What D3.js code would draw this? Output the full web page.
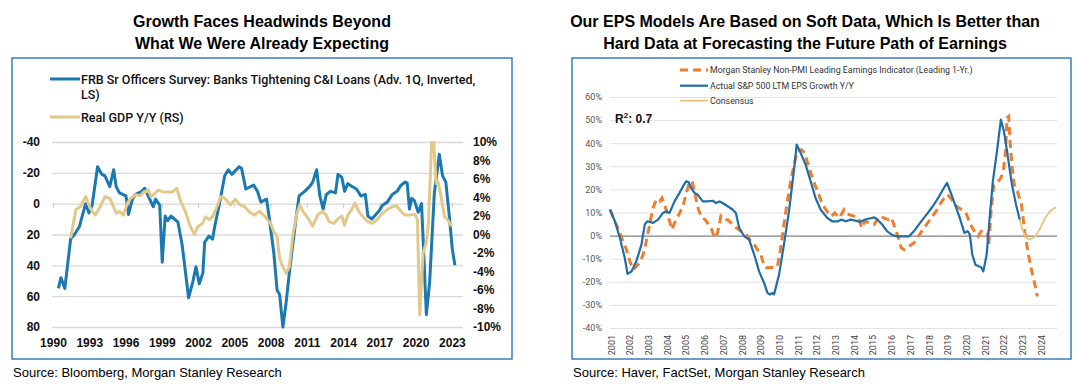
<!DOCTYPE html>
<html>
<head>
<meta charset="utf-8">
<script src="https://cdn.jsdelivr.net/npm/d3@7"></script>
<style>
  html, body { margin: 0; padding: 0; background: #fff; }
  svg { display: block; }
</style>
</head>
<body>
<script>
// ---------------- DATA ----------------
// Left chart: FRB Senior Loan Officers survey (left axis, inverted) [decimal year, value]
const frbSeries = [
  [1990.45,55],[1990.66,48],[1990.98,55],[1991.46,23],[1991.78,20],[1992.18,15],[1992.7,0],[1992.98,6],
  [1993.24,1],[1993.69,-24],[1994.04,-19],[1994.3,-18],[1994.7,-11],[1995.02,-22],[1995.23,-11],[1995.5,-7],
  [1996.04,-5],[1996.25,7],[1996.57,-3],[1996.83,-6],[1997.36,-8],[1997.58,-10],[1997.76,-7],[1998.3,2],
  [1998.48,-3],[1998.83,1],[1999.04,38],[1999.28,8],[1999.49,11],[1999.76,8],[2000.34,12],[2000.69,27],
  [2001.22,61],[2001.56,51],[2001.83,41],[2002.1,52],[2002.4,45],[2002.55,25],[2002.9,21],[2003.2,23],
  [2003.4,14],[2003.75,1],[2004.2,-18],[2004.5,-22],[2004.8,-19],[2005.4,-24],[2005.6,-23],[2005.95,-9.5],
  [2006.6,-12],[2006.92,-8],[2007.2,-1],[2007.67,-3],[2007.87,8],[2008.27,32],[2008.54,56],[2008.75,59],
  [2009.02,80],[2009.29,64],[2009.55,45],[2009.83,27],[2010.15,7],[2010.36,-5],[2010.82,-8],[2011.22,-11],
  [2011.49,-14],[2011.81,-22],[2012.08,-5],[2012.35,3.5],[2012.61,-6],[2012.97,-8],[2013.37,-7],[2013.58,-19],
  [2013.9,-17],[2014.12,-8],[2014.39,-13],[2014.77,-11],[2015.11,-9.5],[2015.47,-5],[2015.84,-6],[2016.05,8],
  [2016.38,10],[2017.0,4.5],[2017.26,1],[2017.66,-1],[2018.07,-6],[2018.47,-8],[2018.79,-12],[2019.14,-14],
  [2019.3,-13.5],[2019.49,3.5],[2019.68,-3.5],[2019.9,-2],[2020.21,5.6],[2020.49,0],[2020.62,23],[2020.89,72],
  [2021.16,51],[2021.55,-7],[2021.96,-32],[2022.23,-18],[2022.5,-14],[2022.76,6],[2023.03,29],[2023.25,40]
];
// Left chart: Real GDP Y/Y % (right axis)
const gdpSeries = [
  [1991.46,-0.4],[1991.9,2.7],[1992.25,3.0],[1992.7,4.1],[1993.1,2.8],[1993.5,2.1],[1993.9,3.0],[1994.3,4.1],
  [1994.7,3.9],[1995.02,3.0],[1995.23,2.3],[1995.5,2.5],[1995.82,2.1],[1996.16,3.4],[1996.43,3.9],[1996.83,4.3],
  [1997.23,4.2],[1997.5,4.6],[1997.9,4.8],[1998.1,4.1],[1998.3,4.3],[1998.7,4.8],[1999.1,4.6],[1999.5,4.6],
  [1999.9,4.6],[2000.24,5.0],[2000.56,3.6],[2000.95,2.5],[2001.35,0.9],[2001.7,0],[2002.0,0.9],[2002.37,1.2],
  [2002.63,1.9],[2002.95,1.6],[2003.2,1.9],[2003.56,3.0],[2003.87,4.1],[2004.22,3.9],[2004.68,3.2],[2005.08,3.8],
  [2005.48,3.2],[2005.87,3.0],[2006.27,2.4],[2006.65,2.1],[2007.07,2.5],[2007.5,2.0],[2008.0,1.2],[2008.27,0.3],
  [2008.54,-0.2],[2008.75,-2.6],[2009.02,-3.5],[2009.29,-4.2],[2009.55,-3.5],[2009.83,-0.2],[2010.15,2.1],
  [2010.41,3.2],[2010.68,2.5],[2011.08,1.8],[2011.49,0.9],[2011.89,2.1],[2012.3,2.5],[2012.61,2.1],[2012.83,1.4],
  [2013.23,1.2],[2013.58,1.7],[2013.9,2.0],[2014.12,1.0],[2014.39,2.1],[2014.71,2.7],[2014.98,3.4],[2015.3,2.5],
  [2015.65,1.9],[2016.05,1.4],[2016.45,1.2],[2016.8,1.6],[2017.18,2.2],[2017.66,2.7],[2018.07,3.0],[2018.42,3.1],
  [2018.79,2.5],[2019.14,2.1],[2019.54,2.1],[2019.94,2.2],[2020.15,1.6],[2020.34,-8.7],[2020.62,-2.0],
  [2020.89,-0.8],[2021.05,1.0],[2021.4,12.2],[2021.7,5.5],[2021.85,5.7],[2022.05,4.5],[2022.4,1.9],
  [2022.65,1.6],[2022.97,0.9]
];
const frbTicks = [-40, -20, 0, 20, 40, 60, 80];
const gdpTicks = [10, 8, 6, 4, 2, 0, -2, -4, -6, -8, -10];
const leftYears = [1990, 1993, 1996, 1999, 2002, 2005, 2008, 2011, 2014, 2017, 2020, 2023];

// Right chart: EPS growth % [decimal year, value]
const msIndicator = [
  [2000.95,11.3],[2001.21,6.2],[2001.48,1.2],[2001.65,-2.5],[2001.83,-6.1],[2002.01,-11.1],[2002.19,-14.7],
  [2002.36,-13.3],[2002.54,-11.8],[2002.72,-8.2],[2002.89,-2.5],[2003.07,4.8],[2003.25,12.0],[2003.43,15.6],
  [2003.61,14.8],[2003.73,16.3],[2003.87,13.4],[2004.08,7.7],[2004.26,2.6],[2004.44,6.2],[2004.67,9.8],
  [2004.85,12.7],[2005.03,18.5],[2005.2,22.8],[2005.34,23.5],[2005.5,17.7],[2005.68,11.3],[2005.86,7.7],
  [2006.04,6.9],[2006.21,4.8],[2006.39,2.6],[2006.53,-1.0],[2006.7,1.2],[2006.88,8.4],[2007.06,6.9],
  [2007.24,6.9],[2007.42,5.5],[2007.6,4.0],[2007.77,3.0],[2007.95,1.9],[2008.13,1.2],[2008.31,-0.3],
  [2008.48,-2.5],[2008.66,-3.9],[2008.84,-6.1],[2009.02,-8.2],[2009.19,-13.3],[2009.37,-14.0],[2009.55,-13.7],
  [2009.72,-14.0],[2009.9,-13.3],[2010.08,-5.3],[2010.25,4.8],[2010.43,14.8],[2010.61,23.5],[2010.79,30.7],
  [2010.97,36.5],[2011.18,37.2],[2011.36,35.8],[2011.54,30.7],[2011.72,26.4],[2011.9,22.1],[2012.08,18.5],
  [2012.25,14.8],[2012.43,12.0],[2012.61,9.8],[2012.79,8.4],[2012.97,9.8],[2013.22,7.7],[2013.47,11.3],
  [2013.73,9.1],[2013.98,8.4],[2014.24,7.7],[2014.41,3.3],[2014.57,6.2],[2014.83,5.5],[2015.08,4.8],
  [2015.34,8.4],[2015.59,7.7],[2015.84,6.9],[2016.01,7.7],[2016.18,3.3],[2016.35,-0.3],[2016.52,-5.3],
  [2016.69,-6.1],[2016.94,-4.6],[2017.2,-3.2],[2017.37,-1.0],[2017.62,1.9],[2017.87,4.8],[2018.13,7.7],
  [2018.38,10.5],[2018.63,14.1],[2018.89,17.0],[2019.0,17.7],[2019.22,15.6],[2019.48,12.7],[2019.73,11.3],
  [2019.98,9.8],[2020.16,6.2],[2020.32,3.3],[2020.49,1.2],[2020.63,-0.3],[2020.8,1.9],[2020.96,2.2],
  [2021.13,1.2],[2021.2,-3.9],[2021.34,12.0],[2021.47,22.1],[2021.64,22.8],[2021.85,25.0],[2021.98,27.8],
  [2022.1,36.5],[2022.18,51.0],[2022.27,51.6],[2022.35,39.4],[2022.44,30.7],[2022.56,22.1],[2022.73,19.2],
  [2022.95,13.4],[2023.12,1.9],[2023.29,-6.8],[2023.46,-14.0],[2023.63,-19.8],[2023.8,-26.3]
];
const actualEps = [
  [2000.95,11.3],[2001.21,6.2],[2001.48,-1],[2001.74,-9.7],[2001.89,-16.6],[2002.1,-15.5],[2002.36,-11.1],
  [2002.63,-3.9],[2002.81,4.8],[2002.95,6.2],[2003.25,5.5],[2003.52,6.9],[2003.78,9.8],[2003.96,10.5],
  [2004.13,9.8],[2004.4,14.8],[2004.67,18.5],[2004.85,21.3],[2005.02,23.5],[2005.15,23.2],[2005.29,20.6],
  [2005.47,18.5],[2005.64,17.7],[2005.91,14.8],[2006.17,14.8],[2006.44,15.1],[2006.62,14.1],[2006.8,14.8],
  [2006.97,14.1],[2007.24,12.7],[2007.5,11.3],[2007.68,9.8],[2007.86,3.3],[2008.13,-0.3],[2008.39,-1.7],
  [2008.66,-8.2],[2008.92,-15.5],[2009.19,-20.5],[2009.37,-24.8],[2009.51,-25.5],[2009.64,-24.8],
  [2009.72,-25.5],[2009.99,-16.9],[2010.25,-3.9],[2010.52,10.5],[2010.79,28.6],[2010.93,39.4],[2011.14,35.8],
  [2011.41,30.7],[2011.68,23.5],[2011.94,16.3],[2012.21,11.3],[2012.56,7.7],[2012.83,6.2],[2013.14,6.2],
  [2013.31,6.9],[2013.56,6.2],[2013.81,6.9],[2014.07,6.5],[2014.32,5.9],[2014.57,6.9],[2014.83,7.4],
  [2015.08,7.9],[2015.25,6.9],[2015.5,4.8],[2015.76,1.9],[2016.01,0.4],[2016.27,-0.3],[2016.6,-0.3],
  [2016.94,-0.3],[2017.2,1.9],[2017.53,5.5],[2017.87,9.1],[2018.21,12.7],[2018.55,17.0],[2018.8,20.6],
  [2018.97,22.8],[2019.14,19.2],[2019.4,13.4],[2019.65,7.7],[2019.9,1.2],[2020.07,1.9],[2020.19,0.4],
  [2020.32,-8.2],[2020.49,-12.6],[2020.66,-13.3],[2020.8,-13.7],[2020.91,-15.5],[2021.09,-8.2],[2021.25,7.7],
  [2021.42,23.5],[2021.64,36.5],[2021.85,50.2],[2022.01,45.2],[2022.18,36.5],[2022.44,22.1],[2022.66,13.4],
  [2022.86,6.9]
];
const consensusEps = [
  [2022.86,6.9],[2023.03,1.9],[2023.2,-1.0],[2023.4,-1.7],[2023.7,-0.3],[2023.96,3.3],[2024.22,7.7],
  [2024.47,10.5],[2024.72,12.0],[2024.8,12.0]
];
const epsTicks = [60, 50, 40, 30, 20, 10, 0, -10, -20, -30, -40];
const rightYears = d3.range(2001, 2025);

// ---------------- DRAW ----------------
const W = 1080, H = 390;
const svg = d3.select('body').append('svg').attr('width', W).attr('height', H);
svg.append('rect').attr('width', W).attr('height', H).attr('fill', '#fff');

const ARIAL = "'Liberation Sans', Arial, sans-serif";
const ROBOTO = "Roboto, 'Liberation Sans', sans-serif";
const frameColor = '#3a7dbd';

// Titles
function title(cx, lines) {
  lines.forEach((t, i) => {
    svg.append('text').attr('x', cx).attr('y', 27 + i * 22.3)
      .attr('text-anchor', 'middle').attr('font-family', ARIAL)
      .attr('font-weight', 'bold').attr('font-size', 16).attr('fill', '#000').text(t);
  });
}
title(262, ['Growth Faces Headwinds Beyond', 'What We Were Already Expecting']);
title(805, ['Our EPS Models Are Based on Soft Data, Which Is Better than',
            'Hard Data at Forecasting the Future Path of Earnings']);

// Frames
svg.append('rect').attr('x', 12).attr('y', 58).attr('width', 500).attr('height', 301)
  .attr('fill', 'none').attr('stroke', frameColor).attr('stroke-width', 1.5);
svg.append('rect').attr('x', 572).attr('y', 58).attr('width', 499).attr('height', 301)
  .attr('fill', 'none').attr('stroke', frameColor).attr('stroke-width', 1.5);

// Sources
svg.append('text').attr('x', 13).attr('y', 377).attr('font-family', ARIAL).attr('font-size', 13)
  .attr('fill', '#000').text('Source: Bloomberg, Morgan Stanley Research');
svg.append('text').attr('x', 573).attr('y', 377).attr('font-family', ARIAL).attr('font-size', 13)
  .attr('fill', '#000').text('Source: Haver, FactSet, Morgan Stanley Research');

// ===== LEFT CHART =====
const xL = d3.scaleLinear().domain([1989.92, 2023.92]).range([52, 463]);
const yL = d3.scaleLinear().domain([-40, 80]).range([142, 327]);
const yR = d3.scaleLinear().domain([10, -10]).range([142, 327]);

const gGrid = svg.append('g').attr('transform', 'translate(52,0)')
  .call(d3.axisLeft(yL).tickValues(frbTicks).tickSize(-411).tickPadding(12).tickFormat(d => d));
gGrid.select('.domain').remove();
gGrid.selectAll('line').attr('stroke', '#d9d9d9').attr('stroke-width', 1.4);
gGrid.selectAll('text').attr('font-family', ARIAL).attr('font-weight', 'bold')
  .attr('font-size', 12).attr('fill', '#111');

const gRight = svg.append('g').attr('transform', 'translate(463,0)')
  .call(d3.axisRight(yR).tickValues(gdpTicks).tickSize(0).tickPadding(10).tickFormat(d => d + '%'));
gRight.select('.domain').remove();
gRight.selectAll('text').attr('font-family', ARIAL).attr('font-weight', 'bold')
  .attr('font-size', 12).attr('fill', '#111');

// small ticks on zero line
const gZero = svg.append('g').attr('transform', `translate(0,${yL(0)})`)
  .call(d3.axisBottom(xL).tickValues(leftYears).tickSize(4).tickFormat(''));
gZero.select('.domain').remove();
gZero.selectAll('line').attr('stroke', '#c8c8c8').attr('stroke-width', 1);

const gXL = svg.append('g').attr('transform', 'translate(0,347)')
  .call(d3.axisBottom(xL).tickValues(leftYears).tickSize(0).tickFormat(d => d));
gXL.select('.domain').remove();
gXL.selectAll('text').attr('y', 0).attr('dy', 0).attr('font-family', ARIAL)
  .attr('font-weight', 'bold').attr('font-size', 12).attr('fill', '#111');

svg.append('clipPath').attr('id', 'clipL').append('rect')
  .attr('x', 40).attr('y', 141).attr('width', 440).attr('height', 200);

const lineFrb = d3.line().x(d => xL(d[0])).y(d => yL(d[1]));
const lineGdp = d3.line().x(d => xL(d[0])).y(d => yR(d[1]));

const blueL = '#1b79b2', goldL = '#e2c98b';
svg.append('path').datum(frbSeries).attr('d', lineFrb).attr('fill', 'none')
  .attr('stroke', blueL).attr('stroke-width', 3).attr('stroke-linejoin', 'round')
  .attr('clip-path', 'url(#clipL)');
svg.append('path').datum(gdpSeries).attr('d', lineGdp).attr('fill', 'none')
  .attr('stroke', goldL).attr('stroke-width', 3).attr('stroke-linejoin', 'round')
  .attr('clip-path', 'url(#clipL)');

// Left legend
svg.append('line').attr('x1', 50).attr('x2', 80).attr('y1', 79).attr('y2', 79)
  .attr('stroke', blueL).attr('stroke-width', 3);
svg.append('line').attr('x1', 50).attr('x2', 80).attr('y1', 117).attr('y2', 117)
  .attr('stroke', goldL).attr('stroke-width', 3);
const legL = [
  ['FRB Sr Officers Survey: Banks Tightening C&I Loans (Adv. 1Q, Inverted,', 83.5],
  ['LS)', 98.5],
  ['Real GDP Y/Y (RS)', 121.5]
];
legL.forEach(([t, y]) => {
  svg.append('text').attr('x', 81).attr('y', y).attr('font-family', ROBOTO)
    .attr('font-weight', 500).attr('font-size', 12.5).attr('fill', '#111').text(t);
});

// ===== RIGHT CHART =====
const xR2 = d3.scaleLinear().domain([2000.95, 2024.85]).range([610, 1057]);
const yE = d3.scaleLinear().domain([-40, 60]).range([328, 97]);

const gGridR = svg.append('g').attr('transform', 'translate(610,0)')
  .call(d3.axisLeft(yE).tickValues(epsTicks).tickSize(-447).tickPadding(8).tickFormat(d => d + '%'));
gGridR.select('.domain').remove();
gGridR.selectAll('line').attr('stroke', d => d === 0 ? '#808080' : '#e2e2e2')
  .attr('stroke-width', d => d === 0 ? 1.4 : 1);
gGridR.selectAll('text').attr('font-family', ROBOTO).attr('font-size', 9).attr('fill', '#555');

const gXR = svg.append('g').attr('transform', 'translate(0,335)')
  .call(d3.axisBottom(xR2).tickValues(rightYears).tickSize(0).tickFormat(d => d));
gXR.select('.domain').remove();
gXR.selectAll('text').attr('y', 0).attr('x', 0).attr('dy', '0.35em')
  .attr('transform', 'rotate(-90)').attr('text-anchor', 'end')
  .attr('font-family', ROBOTO).attr('font-size', 9).attr('fill', '#444');

const lineE = d3.line().x(d => xR2(d[0])).y(d => yE(d[1]));
const orangeR = '#ee7d31', blueR = '#1f6ea8', goldR = '#e6c67a';
svg.append('path').datum(msIndicator).attr('d', lineE).attr('fill', 'none')
  .attr('stroke', orangeR).attr('stroke-width', 3).attr('stroke-dasharray', '8,5');
svg.append('path').datum(actualEps).attr('d', lineE).attr('fill', 'none')
  .attr('stroke', blueR).attr('stroke-width', 2.2).attr('stroke-linejoin', 'round');
svg.append('path').datum(consensusEps).attr('d', lineE).attr('fill', 'none')
  .attr('stroke', goldR).attr('stroke-width', 1.8).attr('stroke-linejoin', 'round');

// Right legend
const legR = [
  ['Morgan Stanley Non-PMI Leading Earnings Indicator (Leading 1-Yr.)', 70, orangeR, '8,5', 3],
  ['Actual S&P 500 LTM EPS Growth Y/Y', 85.7, blueR, null, 2.2],
  ['Consensus', 100.7, goldR, null, 1.8]
];
legR.forEach(([t, y, c, dash, w]) => {
  svg.append('line').attr('x1', 680).attr('x2', 708).attr('y1', y).attr('y2', y)
    .attr('stroke', c).attr('stroke-width', w).attr('stroke-dasharray', dash);
  svg.append('text').attr('x', 710).attr('y', y + 3.2).attr('font-family', ROBOTO)
    .attr('font-size', 8.8).attr('fill', '#333').text(t);
});

// R² annotation
const r2 = svg.append('text').attr('x', 615).attr('y', 122.5).attr('font-family', ARIAL)
  .attr('font-weight', 'bold').attr('font-size', 12).attr('fill', '#111');
r2.append('tspan').text('R');
r2.append('tspan').attr('font-size', 8).attr('dy', -5).text('2');
r2.append('tspan').attr('dy', 5).text(': 0.7');
</script>
</body>
</html>
